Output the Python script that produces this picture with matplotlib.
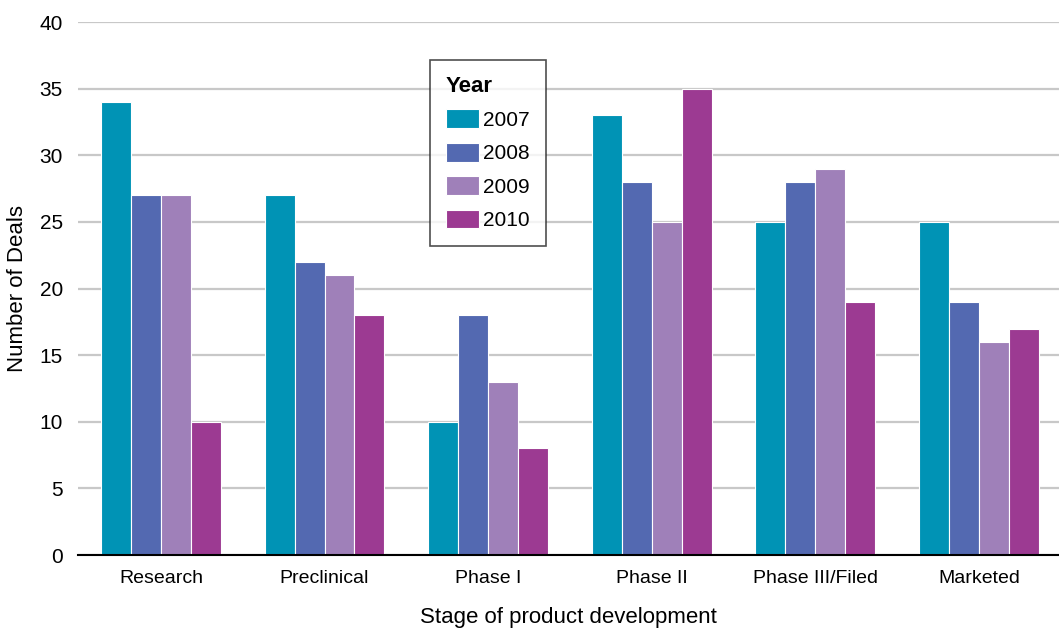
import numpy as np
import matplotlib
matplotlib.use("Agg")
import matplotlib.pyplot as plt

plt.rcParams['font.family'] = ['Liberation Sans', 'DejaVu Sans']

# deals per development stage, one series per year
stages = ["Research", "Preclinical", "Phase I", "Phase II", "Phase III/Filed", "Marketed"]
years = ["2007", "2008", "2009", "2010"]
deals_2007 = [34, 27, 10, 33, 25, 25]
deals_2008 = [27, 22, 18, 28, 28, 19]
deals_2009 = [27, 21, 13, 25, 29, 16]
deals_2010 = [10, 18, 8, 35, 19, 17]
colors = ["#0093b5", "#5369b1", "#9f80b9", "#9c3a92"]

series = [deals_2007, deals_2008, deals_2009, deals_2010]

fig = plt.figure(figsize=(10.59, 6.32), dpi=100)
ax = fig.add_axes([0.0737, 0.1218, 0.9263, 0.8432])

x = np.arange(len(stages))
w = 0.183
for k, (vals, yr, c) in enumerate(zip(series, years, colors)):
    ax.bar(x + (k - 1.5) * w, vals, width=w, color=c, edgecolor="white",
           linewidth=0.8, label=yr, zorder=3)

ax.set_xlim(-0.507, 5.49)
ax.set_ylim(0, 40)
ax.set_yticks(range(0, 41, 5))
ax.set_xticks(x)
ax.set_xticklabels(stages, fontsize=14)
ax.tick_params(axis="y", labelsize=15, length=0, pad=11)
ax.tick_params(axis="x", length=0, pad=11)
ax.grid(axis="y", color="#c8c8c8", linewidth=1.6, zorder=0)

for s in ["top", "right", "left"]:
    ax.spines[s].set_visible(False)
ax.spines["bottom"].set_linewidth(1.5)
ax.spines["bottom"].set_zorder(4)

ax.set_xlabel("Stage of product development", fontsize=16, labelpad=14)
ax.set_ylabel("Number of Deals", fontsize=16, labelpad=8)

leg = ax.legend(title="Year", loc="upper left", bbox_to_anchor=(0.359, 0.929),
                fontsize=15, title_fontproperties={"weight": "bold", "size": 16},
                frameon=True, fancybox=False, edgecolor="#222222",
                handlelength=1.6, handleheight=1.0, handletextpad=0.2,
                labelspacing=0.62, borderpad=0.75, borderaxespad=0)
leg._legend_box.align = "left"
leg.get_frame().set_linewidth(1.2)

fig.savefig("out.png", dpi=100)
